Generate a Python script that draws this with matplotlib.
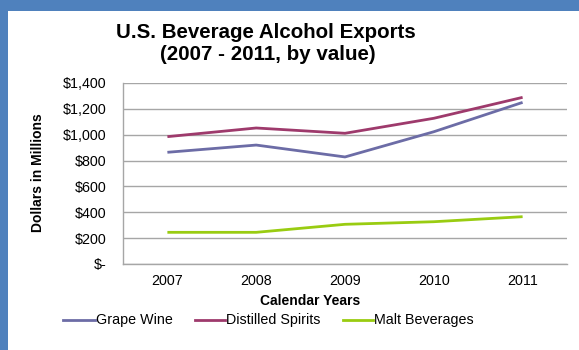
import matplotlib
matplotlib.use("Agg")
import matplotlib.pyplot as plt
from matplotlib.patches import Rectangle
from matplotlib.lines import Line2D

plt.rcParams['font.family'] = ['Liberation Sans', 'DejaVu Sans']

years = ["2007", "2008", "2009", "2010", "2011"]
grape_wine = [864, 920, 828, 1023, 1250]
distilled_spirits = [985, 1052, 1011, 1127, 1289]
malt_beverages = [245, 245, 307, 327, 366]
series_names = ["Grape Wine", "Distilled Spirits", "Malt Beverages"]
series_colors = ["#6C6CA6", "#9E3A6C", "#99CC11"]
y_ticks = [0, 200, 400, 600, 800, 1000, 1200, 1400]
y_tick_labels = ["$-", "$200", "$400", "$600", "$800", "$1,000", "$1,200", "$1,400"]

W, H = 579, 350
fig = plt.figure(figsize=(W / 100, H / 100), dpi=100)
fig.patch.set_facecolor("white")


def fx(px):
    return px / W


def fy(py):
    return 1 - py / H


# blue frame along the top and left edges
fig.add_artist(Rectangle((0, fy(11)), 1, 11 / H, transform=fig.transFigure,
                         facecolor="#4F81BD", edgecolor="none", zorder=0))
fig.add_artist(Rectangle((0, 0), fx(8), 1, transform=fig.transFigure,
                         facecolor="#4F81BD", edgecolor="none", zorder=0))

left, right, top, bottom = 123, 567, 83, 264
ax = fig.add_axes([fx(left), fy(bottom), (right - left) / W, (bottom - top) / H])

x = list(range(len(years)))
for vals, name, col in zip([grape_wine, distilled_spirits, malt_beverages], series_names, series_colors):
    ax.plot(x, vals, color=col, lw=2.0, label=name, solid_capstyle="butt", zorder=3)

ax.set_xlim(-0.5, len(years) - 0.5)
ax.set_ylim(0, 1400)
ax.set_yticks(y_ticks)
ax.set_yticklabels(y_tick_labels)
ax.set_xticks(x)
ax.set_xticklabels(years)
ax.yaxis.grid(True, color="#A6A6A6", lw=1)
ax.set_axisbelow(True)
for s in ["top", "right"]:
    ax.spines[s].set_visible(False)
for s in ["left", "bottom"]:
    ax.spines[s].set_color("#A6A6A6")
    ax.spines[s].set_linewidth(1)
ax.tick_params(axis="both", length=0, labelsize=10.3, colors="black")
ax.tick_params(axis="y", pad=12)
ax.tick_params(axis="x", pad=7)

ax.set_xlabel("Calendar Years", fontsize=10, fontweight="bold")
ax.xaxis.set_label_coords((310 - left) / (right - left), -(301 - bottom) / (bottom - top))
ax.xaxis.label.set_va("center")
ax.set_ylabel("Dollars in Millions", fontsize=10, fontweight="bold")
ax.yaxis.set_label_coords(-(left - 38) / (right - left), (bottom - 173) / (bottom - top))
ax.yaxis.label.set_va("center")

fig.text(fx(266), fy(33), "U.S. Beverage Alcohol Exports", ha="center", va="center",
         fontsize=14.8, fontweight="bold")
fig.text(fx(268), fy(55), "(2007 - 2011, by value)", ha="center", va="center",
         fontsize=14.8, fontweight="bold")

# legend row drawn entry by entry
legend_y = 320
legend_spans = [(63, 95), (195, 225), (343, 373)]
for (x0, x1), name, col in zip(legend_spans, series_names, series_colors):
    fig.add_artist(Line2D([fx(x0), fx(x1)], [fy(legend_y), fy(legend_y)],
                          transform=fig.transFigure, color=col, lw=2.0))
    fig.text(fx(x1 + 1), fy(legend_y), name, ha="left", va="center", fontsize=10.3)

fig.savefig("out.png", dpi=100)
